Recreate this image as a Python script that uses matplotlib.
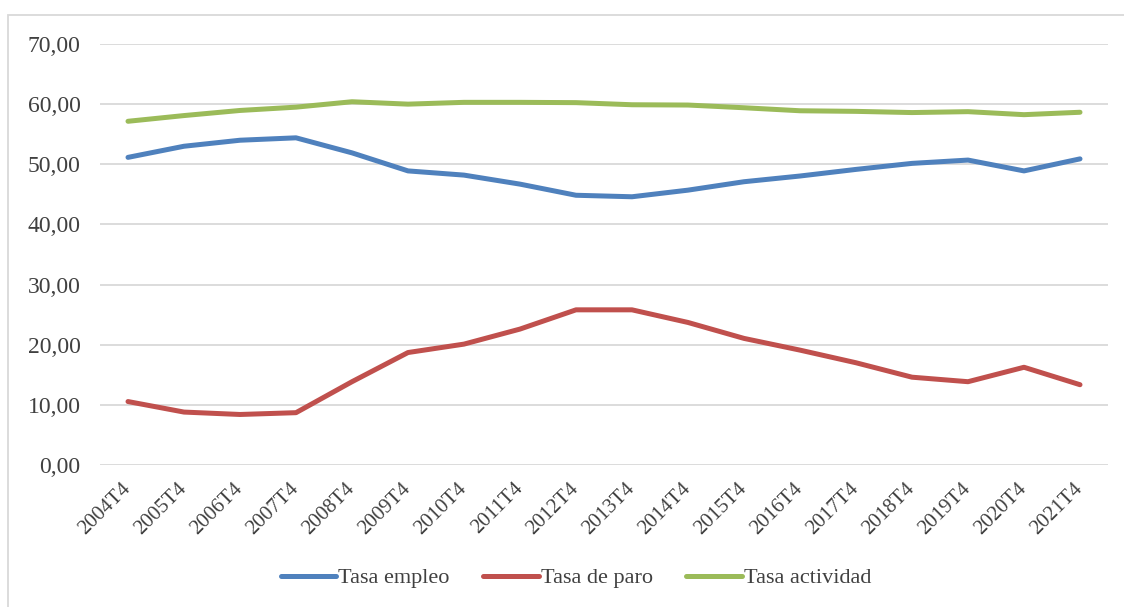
import numpy as np
import matplotlib
matplotlib.use("Agg")
import matplotlib.pyplot as plt
from matplotlib.patches import Rectangle

# --- dati ---
trimestri = ["2004T4", "2005T4", "2006T4", "2007T4", "2008T4", "2009T4",
             "2010T4", "2011T4", "2012T4", "2013T4", "2014T4", "2015T4",
             "2016T4", "2017T4", "2018T4", "2019T4", "2020T4", "2021T4"]
tasa_empleo = [51.15, 53.0, 54.0, 54.4, 51.9, 48.9, 48.2, 46.7, 44.85,
               44.6, 45.7, 47.1, 48.05, 49.15, 50.15, 50.7, 48.9, 50.9]
tasa_paro = [10.55, 8.8, 8.4, 8.7, 13.85, 18.7, 20.1, 22.6, 25.8,
             25.8, 23.7, 21.05, 19.1, 17.0, 14.6, 13.85, 16.25, 13.35]
tasa_actividad = [57.15, 58.1, 58.95, 59.5, 60.4, 60.0, 60.3, 60.3, 60.25,
                  59.9, 59.85, 59.4, 58.9, 58.8, 58.6, 58.75, 58.25, 58.65]
y_ticks = [0, 10, 20, 30, 40, 50, 60, 70]

plt.rcParams['font.family'] = ['Liberation Serif', 'DejaVu Serif']
testo = '#404040'

fig = plt.figure(figsize=(11.24, 6.07), dpi=100)
ax = fig.add_axes([100/1124, 1 - 465/607, 1008/1124, 421/607])

x = np.arange(len(trimestri))
ax.plot(x, tasa_empleo, color='#4F81BD', lw=3.6, solid_capstyle='round', label='Tasa empleo')
ax.plot(x, tasa_paro, color='#C0504D', lw=3.6, solid_capstyle='round', label='Tasa de paro')
ax.plot(x, tasa_actividad, color='#9BBB59', lw=3.6, solid_capstyle='round', label='Tasa actividad')

ax.set_xlim(-0.5, len(trimestri) - 0.5)
ax.set_ylim(0, 70)
ax.set_yticks(y_ticks)
ax.set_yticklabels([f"{v:.2f}".replace('.', ',') for v in y_ticks])
ax.set_xticks(x)
ax.set_xticklabels(trimestri, rotation=45, ha='right', va='center', rotation_mode='anchor')
ax.tick_params(axis='y', length=0, pad=14, labelsize=17, labelcolor=testo)
ax.tick_params(axis='x', length=0, pad=15, labelsize=15, labelcolor=testo)

ax.grid(axis='y', color='#D9D9D9', lw=1.3)
ax.set_axisbelow(True)
for s in ax.spines.values():
    s.set_visible(False)

leg = fig.legend(loc='center', bbox_to_anchor=(576/1124, 1 - 578/607), ncol=3, frameon=False,
                 fontsize=16, handlelength=2.5, handletextpad=0.1, columnspacing=1.5)
for t in leg.get_texts():
    t.set_color(testo)

# cornice esterna del grafico
fig.patches.append(Rectangle((8/1124, -0.05), 1.1, 1 - 15/607 + 0.05, transform=fig.transFigure,
                             fill=False, edgecolor='#D9D9D9', lw=1.3))

fig.savefig('out.png', dpi=100)
